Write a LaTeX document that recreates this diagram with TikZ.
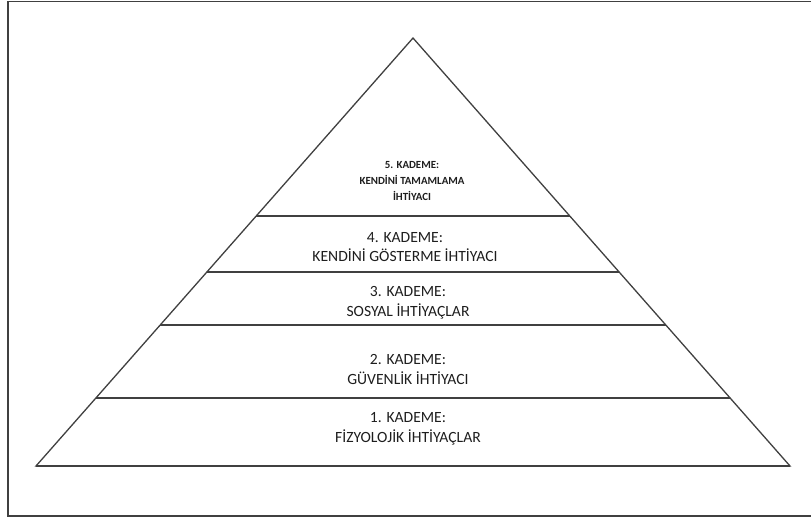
\documentclass[tikz,border=0pt]{standalone}
\usepackage{fontspec}
\setmainfont{Carlito}
\usetikzlibrary{calc}
\definecolor{linegray}{HTML}{404040}
\definecolor{textgray}{HTML}{1E1E1E}
\tikzset{
  frame/.style={draw=linegray, line width=1.4pt},
  edge/.style={draw=linegray, line width=1.3pt, line join=miter},
  tier/.style={draw=linegray, line width=2pt},
  lbl/.style={text=textgray, font=\fontsize{15.6}{19.5}\selectfont, align=center, inner sep=0pt},
  toplbl/.style={text=textgray, font=\fontsize{10.9}{16}\selectfont\bfseries, align=center, inner sep=0pt}
}
\begin{document}
\begin{tikzpicture}[x=1pt,y=-1pt]
\useasboundingbox (0,0) rectangle (811,523);
\draw[frame] (8,1.5) rectangle (818,516);
\coordinate (A) at (413,38);
\coordinate (L) at (36,466);
\coordinate (R) at (790,466);
\draw[edge] (A) -- (L) -- (R) -- cycle;
\coordinate (l5) at ($(A)!0.4159!(L)$);
\coordinate (r5) at ($(A)!0.4159!(R)$);
\coordinate (l4) at ($(A)!0.5467!(L)$);
\coordinate (r4) at ($(A)!0.5467!(R)$);
\coordinate (l3) at ($(A)!0.6706!(L)$);
\coordinate (r3) at ($(A)!0.6706!(R)$);
\coordinate (l2) at ($(A)!0.8411!(L)$);
\coordinate (r2) at ($(A)!0.8411!(R)$);
\draw[tier] (l5) -- (r5);
\draw[tier] (l4) -- (r4);
\draw[tier] (l3) -- (r3);
\draw[tier] (l2) -- (r2);
\draw[tier] (L) -- (R);
\node[toplbl] (k5) at (412,181) {5. KADEME:\\KENDİNİ TAMAMLAMA\\İHTİYACI};
\node[lbl] (k4) at (405,247) {4. KADEME:\\KENDİNİ GÖSTERME İHTİYACI};
\node[lbl] (k3) at (408,302.5) {3. KADEME:\\SOSYAL İHTİYAÇLAR};
\node[lbl] (k2) at (408,369.5) {2. KADEME:\\GÜVENLİK İHTİYACI};
\node[lbl] (k1) at (408,429) {1. KADEME:\\FİZYOLOJİK İHTİYAÇLAR};
\end{tikzpicture}
\end{document}
